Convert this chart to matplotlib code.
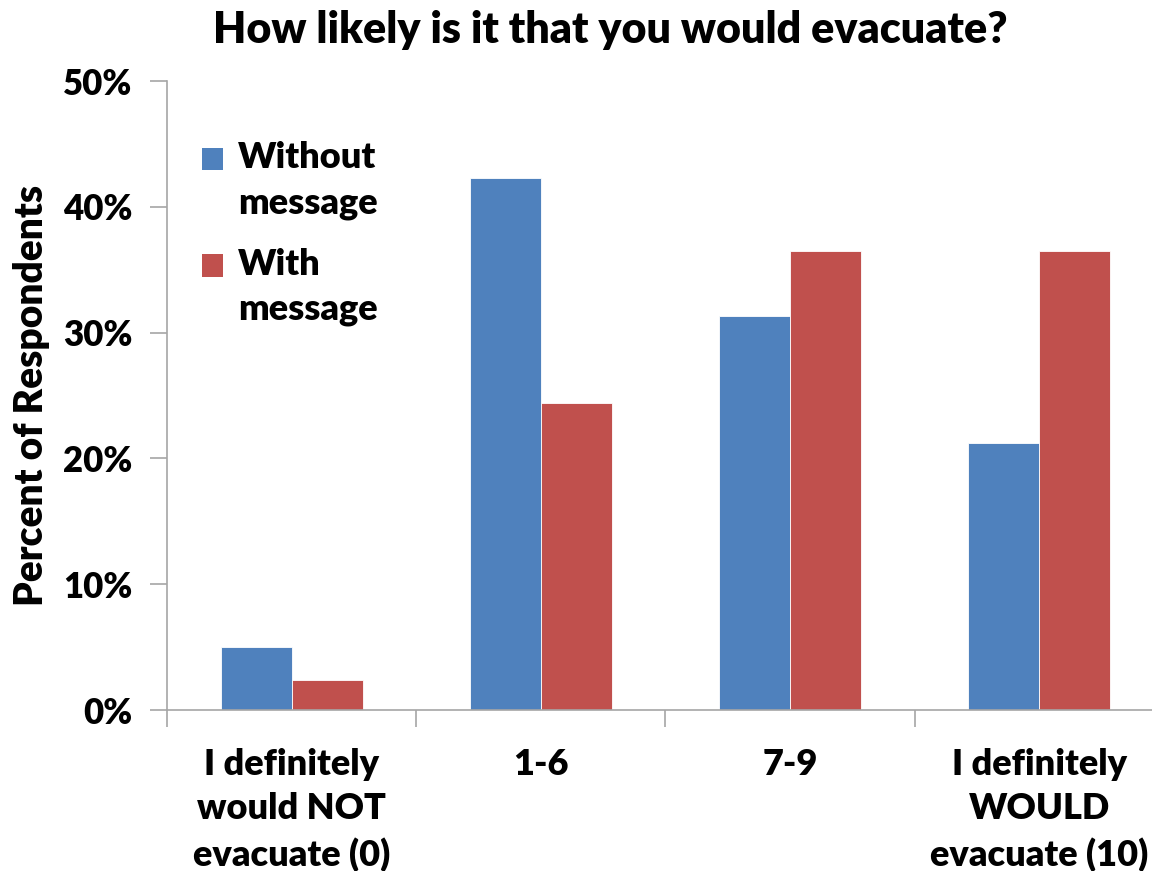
import matplotlib
matplotlib.use("Agg")
import matplotlib.pyplot as plt
import numpy as np
from matplotlib.patches import Patch, Rectangle
from matplotlib.legend_handler import HandlerPatch

plt.rcParams['font.family'] = ['Lato', 'DejaVu Sans']
W = "heavy"
plt.rcParams['font.weight'] = W

categories = ["I definitely\nwould NOT\nevacuate (0)", "1-6", "7-9",
              "I definitely\nWOULD\nevacuate (10)"]
without_message = [5.0, 42.3, 31.3, 21.2]
with_message = [2.4, 24.4, 36.5, 36.5]
series_labels = ["Without\nmessage", "With\nmessage"]
yticks = [0, 10, 20, 30, 40, 50]

blue = "#4f81bd"
red = "#c0504d"
gray = "#a6a6a6"

fig = plt.figure(figsize=(11.52, 8.71), dpi=100)
ax = fig.add_axes([167 / 1152, 1 - 710 / 871, 997 / 1152, 629 / 871])

x = np.arange(len(categories))
w = 0.285
ax.bar(x - w / 2, without_message, w, color=blue, edgecolor="white", linewidth=0.6)
ax.bar(x + w / 2, with_message, w, color=red, edgecolor="white", linewidth=0.6)

ax.set_xlim(-0.5, 3.5)
ax.set_ylim(0, 50)
ax.set_yticks(yticks)
ax.set_yticklabels([f"{v}%" for v in yticks], fontsize=25, fontweight=W)
ax.set_xticks(np.arange(-0.5, 3.6, 1.0))
ax.set_xticklabels([])
ax.set_xticks(x, minor=True)
ax.set_xticklabels(categories, minor=True, fontsize=26, fontweight=W,
                   linespacing=1.42, va="top")
ax.tick_params(axis="x", which="minor", length=0, pad=27)
ax.tick_params(axis="x", which="major", length=12, color=gray, width=1.2, direction="out")
ax.tick_params(axis="y", length=12, color=gray, width=1.2, direction="out", pad=13)

for s in ["top", "right"]:
    ax.spines[s].set_visible(False)
for s in ["left", "bottom"]:
    ax.spines[s].set_color(gray)
    ax.spines[s].set_linewidth(1.2)

ax.set_ylabel("Percent of Respondents", fontsize=28, fontweight=W, labelpad=9)


# Legend swatch sits beside the first line of each two-line label
def first_line_swatch(legend, orig_handle, xdescent, ydescent, width, height, fontsize):
    return Rectangle((-xdescent, -ydescent + 0.62 * fontsize), width, height)


handles = [Patch(facecolor=blue), Patch(facecolor=red)]
leg = ax.legend(handles, series_labels, loc="upper left",
                bbox_to_anchor=(0.003, 0.956), frameon=False,
                prop={"size": 26, "weight": W},
                handlelength=0.58, handleheight=0.58, handletextpad=0.4,
                labelspacing=0.77,
                handler_map={Patch: HandlerPatch(patch_func=first_line_swatch)})
for t in leg.get_texts():
    t.set_linespacing(1.45)

fig.text(610 / 1152, 1 - 30 / 871, "How likely is it that you would evacuate?",
         ha="center", va="center", fontsize=31, fontweight=W)

fig.savefig("out.png", dpi=100)
